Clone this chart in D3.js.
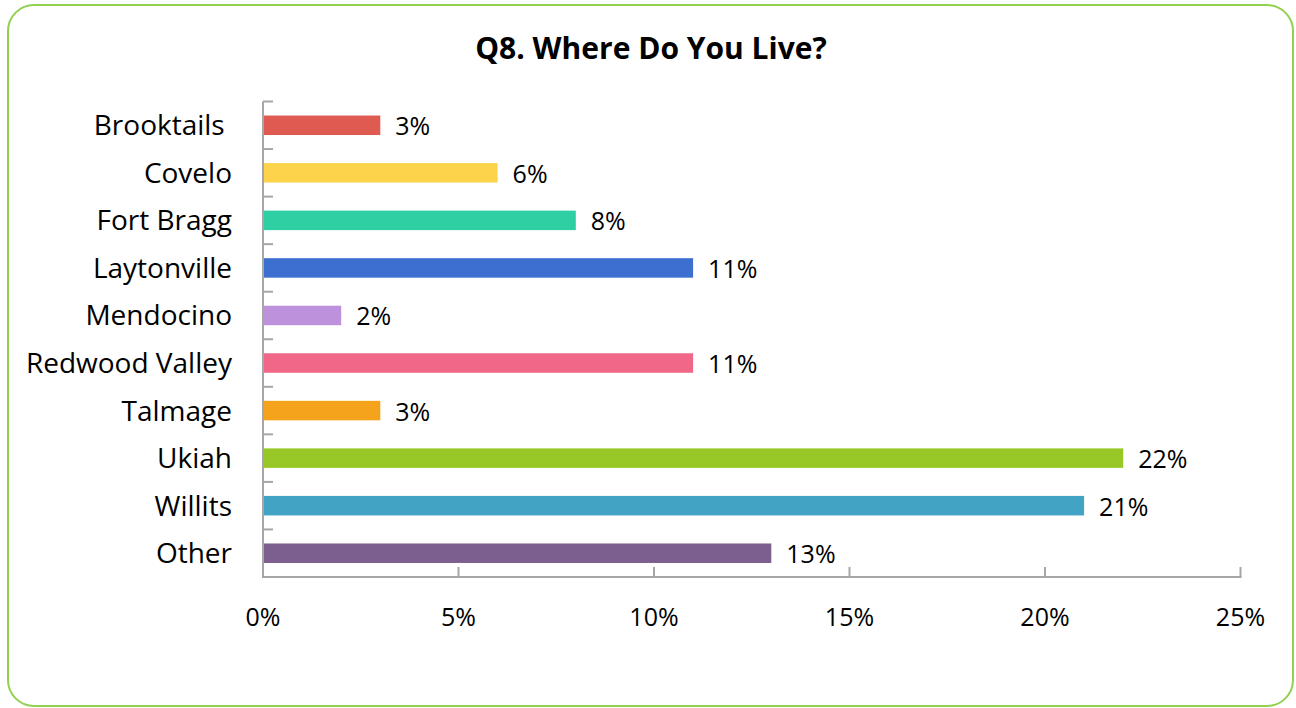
<!DOCTYPE html>
<html>
<head>
<meta charset="utf-8">
<script src="https://cdn.jsdelivr.net/npm/d3@7"></script>
<style>
  html, body { margin: 0; padding: 0; background: #fff; }
  svg { display: block; }
  text { font-family: "Open Sans", "Noto Sans", sans-serif; fill: #000; white-space: pre; }
</style>
</head>
<body>
<svg id="chart" width="1296" height="708"></svg>
<script>
// Survey responses: share of respondents by place of residence
const categories = ["Brooktails ", "Covelo", "Fort Bragg", "Laytonville", "Mendocino",
                    "Redwood Valley", "Talmage", "Ukiah", "Willits", "Other"];
const shares = [3, 6, 8, 11, 2, 11, 3, 22, 21, 13];
const barColors = ["#df5a51", "#fcd34a", "#2ecfa2", "#3c6fcf", "#be91dc",
                   "#f06788", "#f5a31d", "#98c827", "#42a3c4", "#7c5f8e"];
const xTicks = [0, 5, 10, 15, 20, 25];
const title = "Q8. Where Do You Live?";

const svg = d3.select("#chart");

// rounded frame
svg.append("rect")
  .attr("x", 8).attr("y", 5)
  .attr("width", 1285).attr("height", 701)
  .attr("rx", 26).attr("ry", 26)
  .attr("fill", "#fff")
  .attr("stroke", "#92d050")
  .attr("stroke-width", 2);

svg.append("text")
  .attr("x", 651).attr("y", 59)
  .attr("text-anchor", "middle")
  .style("font-size", "30px")
  .style("font-weight", "700")
  .text(title);

const plot = { left: 263, right: 1240.5, top: 101.5, bottom: 577 };

const x = d3.scaleLinear().domain([0, 25]).range([plot.left, plot.right]);
const y = d3.scaleBand().domain(categories).range([plot.top, plot.bottom])
  .paddingInner(0.59).paddingOuter(0.295);
const yBoundaries = d3.scaleLinear().domain([0, categories.length]).range([plot.top, plot.bottom]);

const axisColor = "#a6a6a6";

// category tick marks at band boundaries (pointing inward)
const g = svg.append("g");
g.selectAll("line.ytick")
  .data(d3.range(categories.length + 1))
  .join("line")
  .attr("class", "ytick")
  .attr("x1", plot.left).attr("x2", plot.left + 10)
  .attr("y1", d => yBoundaries(d)).attr("y2", d => yBoundaries(d))
  .attr("stroke", axisColor).attr("stroke-width", 2);

// value axis ticks (pointing upward)
g.selectAll("line.xtick")
  .data(xTicks)
  .join("line")
  .attr("class", "xtick")
  .attr("x1", d => x(d)).attr("x2", d => x(d))
  .attr("y1", plot.bottom).attr("y2", plot.bottom - 10)
  .attr("stroke", axisColor).attr("stroke-width", 2);

// axis lines
g.append("line")
  .attr("x1", plot.left).attr("x2", plot.left)
  .attr("y1", plot.top).attr("y2", plot.bottom)
  .attr("stroke", axisColor).attr("stroke-width", 2);
g.append("line")
  .attr("x1", plot.left - 1).attr("x2", plot.right + 1)
  .attr("y1", plot.bottom).attr("y2", plot.bottom)
  .attr("stroke", axisColor).attr("stroke-width", 2);

// bars
svg.append("g").selectAll("rect")
  .data(categories)
  .join("rect")
  .attr("x", x(0) + 1)
  .attr("y", d => y(d))
  .attr("width", (d, i) => x(shares[i]) - x(0) - 1)
  .attr("height", y.bandwidth())
  .attr("fill", (d, i) => barColors[i]);

// value labels
svg.append("g").selectAll("text")
  .data(categories)
  .join("text")
  .attr("x", (d, i) => x(shares[i]) + 15)
  .attr("y", d => y(d) + y.bandwidth() / 2 + 10)
  .style("font-size", "25px")
  .text((d, i) => shares[i] + "%");

// category labels
svg.append("g").selectAll("text")
  .data(categories)
  .join("text")
  .attr("x", 232)
  .attr("y", d => y(d) + y.bandwidth() / 2 + 10)
  .attr("text-anchor", "end")
  .style("font-size", "28px")
  .text(d => d);

// value axis labels
svg.append("g").selectAll("text")
  .data(xTicks)
  .join("text")
  .attr("x", d => x(d))
  .attr("y", 626)
  .attr("text-anchor", "middle")
  .style("font-size", "25px")
  .text(d => d + "%");
</script>
</body>
</html>
